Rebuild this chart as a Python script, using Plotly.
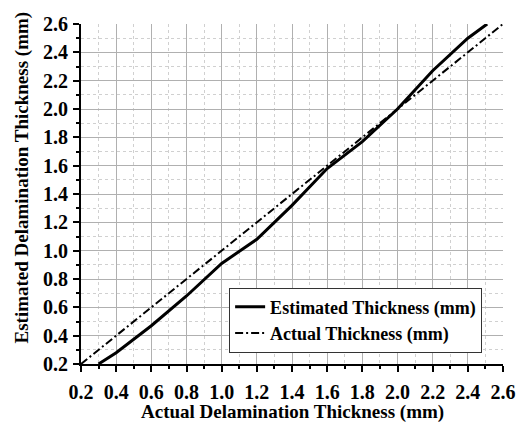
import plotly.graph_objects as go

# Data
est_x = [0.3, 0.4, 0.6, 0.8, 1.0, 1.2, 1.4, 1.6, 1.8, 2.0, 2.2, 2.4, 2.51]
est_y = [0.2, 0.28, 0.47, 0.68, 0.91, 1.08, 1.32, 1.58, 1.77, 2.0, 2.27, 2.5, 2.6]
act_x = [0.2, 0.4, 0.6, 0.8, 1.0, 1.2, 1.4, 1.6, 1.8, 2.0, 2.2, 2.4, 2.6]
act_y = [0.2, 0.4, 0.6, 0.8, 1.0, 1.2, 1.4, 1.6, 1.8, 2.0, 2.2, 2.4, 2.6]
tick_vals = [0.2, 0.4, 0.6, 0.8, 1.0, 1.2, 1.4, 1.6, 1.8, 2.0, 2.2, 2.4, 2.6]
tick_text = [f"<b>{v:.1f}</b>" for v in tick_vals]
x_title = "Actual Delamination Thickness (mm)"
y_title = "Estimated Delamination Thickness (mm)"

FONT = "Liberation Serif"

fig = go.Figure()
fig.add_trace(go.Scatter(x=est_x, y=est_y, mode="lines", name="<b>Estimated Thickness (mm)</b>",
                         line=dict(color="black", width=3)))
fig.add_trace(go.Scatter(x=act_x, y=act_y, mode="lines", name="<b>Actual Thickness (mm)</b>",
                         line=dict(color="black", width=2, dash="8px,3px,2px,3px")))

axis_common = dict(
    range=[0.2, 2.6], tickvals=tick_vals, ticktext=tick_text,
    showline=True, linecolor="black", linewidth=2,
    ticks="outside", ticklen=6, tickwidth=2, tickcolor="black",
    showgrid=True, gridcolor="#b0b0b0", gridwidth=1,
    zeroline=False, mirror=False, automargin=False,
    tickfont=dict(family=FONT, size=20, color="black", weight=700),
    minor=dict(dtick=0.1, tick0=0.1, ticks="outside", ticklen=3, tickwidth=2, tickcolor="black",
               showgrid=True, gridcolor="#d0d0d0", griddash="dot", gridwidth=1),
)

fig.update_xaxes(**axis_common, ticklabelstandoff=3)
fig.update_yaxes(**axis_common, ticklabelstandoff=1)

fig.add_annotation(text=f"<b>{x_title}</b>", xref="paper", yref="paper", x=0.5, y=0,
                   xanchor="center", yanchor="middle", yshift=-48, showarrow=False,
                   font=dict(family=FONT, size=19, color="black"))
fig.add_annotation(text=f"<b>{y_title}</b>", xref="paper", yref="paper", x=0, y=0.5485,
                   xanchor="center", yanchor="middle", xshift=-59, textangle=-90, showarrow=False,
                   font=dict(family=FONT, size=19, color="black"))

fig.update_layout(
    width=522, height=427,
    margin=dict(l=81, r=19, t=24, b=63),
    paper_bgcolor="white", plot_bgcolor="white",
    font=dict(family=FONT, color="black"),
    legend=dict(x=0.351, y=0.225, xanchor="left", yanchor="top",
                bgcolor="white", bordercolor="#333333", borderwidth=1,
                font=dict(family=FONT, size=18, color="black"),
                tracegroupgap=0, itemwidth=30),
    showlegend=True,
)

fig.write_html("out.html")
